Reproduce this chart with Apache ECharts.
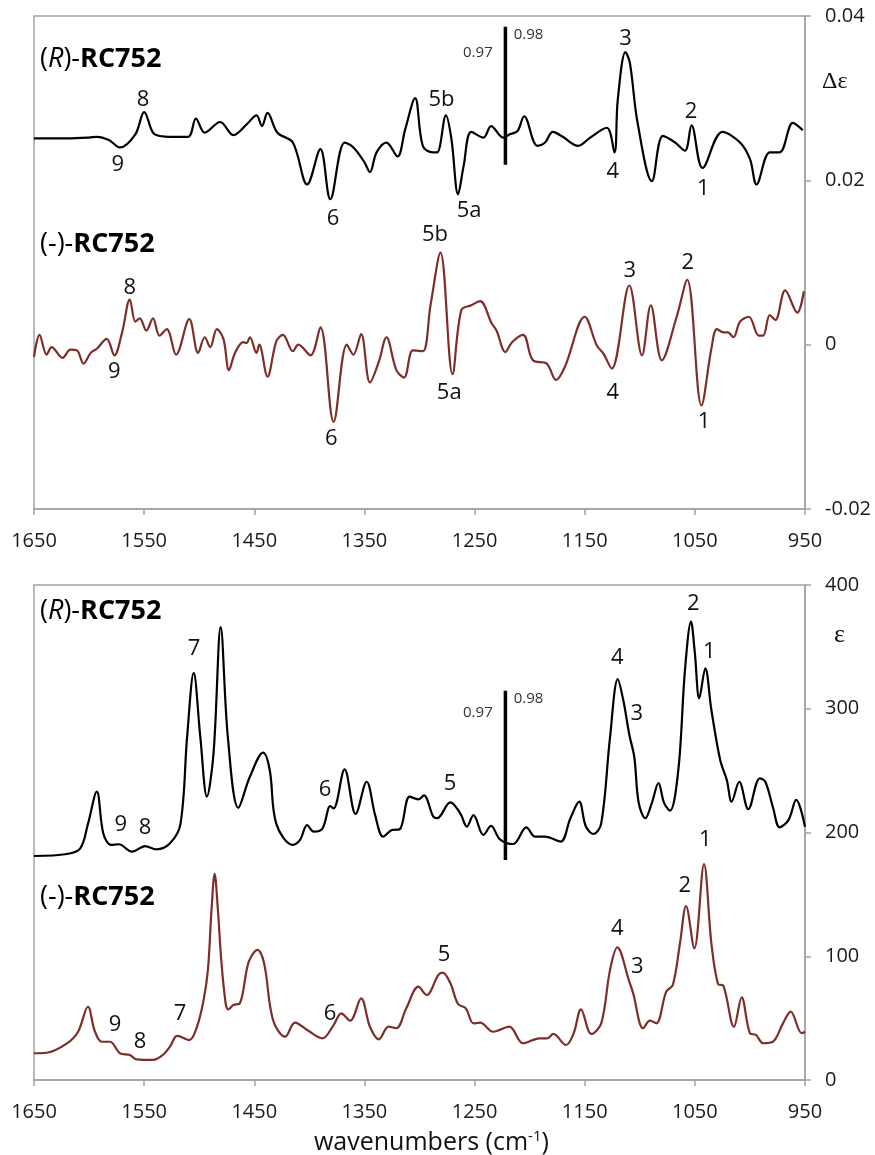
<!DOCTYPE html>
<html>
<head>
<meta charset="utf-8">
<script src="https://cdn.jsdelivr.net/npm/echarts@6/dist/echarts.min.js"></script>
<style>
  html, body { margin: 0; padding: 0; background: #fff; }
  #chart { width: 875px; height: 1155px; }
</style>
</head>
<body>
<div id="chart"></div>
<script>
// tick labels
const xTicks = [1650, 1550, 1450, 1350, 1250, 1150, 1050, 950];
const vcdTicks = [-0.02, 0, 0.02, 0.04];
const irTicks = [0, 100, 200, 300, 400];

// VCD, (R)-RC752 : [wavenumber, delta epsilon]
const rVcd = [[1650,0.0251],[1620,0.0251],[1600,0.0252],[1593,0.0253],[1582,0.0249],[1572,0.0240],[1558,0.0256],[1550,0.0283],[1542,0.0258],[1536,0.0254],[1525,0.0253],[1510,0.0253],[1503,0.0275],[1495,0.0258],[1481,0.0271],[1469,0.0255],[1457,0.0268],[1448,0.0279],[1443,0.0266],[1438,0.0282],[1429,0.0258],[1415,0.0246],[1402,0.0195],[1390,0.0238],[1381,0.0177],[1368,0.0246],[1360,0.0240],[1350,0.0222],[1345,0.0210],[1339,0.0234],[1330,0.0246],[1320,0.0229],[1313,0.0262],[1304,0.0300],[1297,0.0242],[1288,0.0234],[1284,0.0234],[1276,0.0279],[1271,0.0250],[1265,0.0183],[1260,0.0217],[1253,0.0259],[1242,0.0252],[1235,0.0266],[1224,0.0252],[1218,0.0256],[1211,0.0260],[1205,0.0278],[1193,0.0242],[1186,0.0246],[1179,0.0259],[1170,0.0253],[1156,0.0242],[1145,0.0252],[1130,0.0264],[1123,0.0234],[1120,0.0298],[1113,0.0356],[1109,0.0343],[1102,0.0270],[1089,0.0199],[1079,0.0254],[1068,0.0246],[1059,0.0236],[1053,0.0267],[1043,0.0215],[1025,0.0259],[1009,0.0246],[1000,0.0226],[994,0.0195],[982,0.0234],[973,0.0234],[961,0.0270],[952,0.0261]];

// VCD, (-)-RC752
const sVcd = [[1650,-0.0015],[1645,0.0012],[1638.5,-0.0012],[1634,-0.0003],[1624,-0.0016],[1617,-0.0006],[1611,-0.0007],[1605,-0.0023],[1598.5,-0.0010],[1593,-0.0005],[1584,0.0007],[1577,-0.0013],[1570,0.0015],[1563,0.0055],[1558,0.0028],[1554,0.0032],[1548,0.0017],[1542,0.0032],[1536,0.0011],[1529.5,0.0019],[1521,-0.0012],[1509,0.0031],[1501,-0.0010],[1495,0.0009],[1490,-0.0003],[1484,0.0019],[1478,0.0007],[1473,-0.0031],[1467.5,-0.0010],[1460,0.0003],[1457,0.0002],[1454,0.0009],[1448,-0.0010],[1445.5,0.0000],[1438,-0.0039],[1430,0.0004],[1424,0.0012],[1415,-0.0008],[1410,0.0000],[1399,-0.0013],[1390,0.0021],[1378,-0.0094],[1366,0.0000],[1360,-0.0012],[1353,0.0013],[1345,-0.0046],[1337,-0.0021],[1330,0.0009],[1321,-0.0031],[1314,-0.0040],[1306,-0.0007],[1297,-0.0008],[1290,0.0048],[1281,0.0112],[1270,-0.0036],[1262,0.0042],[1253,0.0048],[1245,0.0053],[1234.5,0.0026],[1230,0.0017],[1222,-0.0009],[1216,0.0003],[1206,0.0012],[1197,-0.0019],[1184.5,-0.0023],[1176,-0.0043],[1168,-0.0027],[1150,0.0034],[1139,-0.0001],[1133,-0.0011],[1125.5,-0.0029],[1109.5,0.0072],[1098,-0.0013],[1090,0.0048],[1080,-0.0019],[1066.5,0.0034],[1057,0.0079],[1044,-0.0074],[1035,-0.0005],[1030,0.0019],[1024,0.0015],[1020,0.0015],[1015,0.0009],[1009,0.0028],[1001,0.0034],[992,0.0011],[988,0.0011],[982,0.0036],[977,0.0030],[968,0.0066],[957,0.0039],[951,0.0065]];

// IR, (R)-RC752 : [wavenumber, epsilon]
const rIr = [[1650,181],[1620,182.6],[1608,187.2],[1601,207],[1593,233],[1587,199],[1580,190],[1573,190.5],[1561,184.5],[1549,189],[1539,186.4],[1526.5,191.3],[1517,207],[1511,277],[1505,329],[1499,277],[1493,229],[1487,264],[1480.5,366],[1474,277],[1464.5,220],[1454,245],[1442,264.5],[1436,250.5],[1430,207],[1415,190],[1408.5,194],[1402,206],[1396,200.7],[1388,203.4],[1381,221.4],[1378,219.5],[1368,251],[1358,215],[1348,241],[1340,213],[1333,196.6],[1325,202],[1318,202.6],[1309,229],[1301,226.8],[1296,230],[1287.5,212.8],[1284,211.5],[1272,224.4],[1263,215.5],[1257,204.7],[1251,214.1],[1242,198],[1235,205.3],[1227,194.5],[1215,190.7],[1203,204.2],[1195,196.6],[1186,196.6],[1172,192.6],[1163,211.5],[1155,224.9],[1149,205],[1142,198.8],[1135,207.4],[1127,277],[1120,324],[1115,307],[1109.5,279],[1105,261],[1101,224],[1095,211.5],[1089,224],[1083,240],[1078,224],[1072.6,217.6],[1065,250.5],[1059,331],[1053.5,370.4],[1050,345],[1046,308.4],[1040.5,332.7],[1035,299],[1027,258.6],[1021,242.4],[1016.6,224.9],[1009.7,241],[1001.5,218.8],[991,243.8],[986,241],[979,220],[973,204.2],[965,210],[958,226.3],[950,204.7]];

// IR, (-)-RC752
const sIr = [[1650,21.6],[1638.5,22],[1620,29.6],[1610,39],[1601,59.2],[1595,40],[1588.5,30.9],[1581,30.9],[1572,21.6],[1563,20.2],[1557,16.7],[1542,16.2],[1533,20.2],[1526.5,27],[1520,35.6],[1509,32.3],[1502,43.1],[1496,64.6],[1492,90],[1489,135],[1486,166.5],[1483,137],[1480,97],[1476,62],[1473.6,57.1],[1469,60.6],[1463,62],[1455,95.6],[1447,105.1],[1441,94],[1433,48.5],[1422,35],[1413,46.3],[1402,40.4],[1388,33.7],[1378,44.4],[1371,53.9],[1363,47.9],[1353,66],[1345,43],[1337,32.9],[1328,43.1],[1321,41.8],[1312,57.9],[1301,75.4],[1293.5,68.7],[1283,84.8],[1279,86.7],[1272,78.3],[1265,61.4],[1258,57.9],[1251,45.8],[1245,46.3],[1233,39],[1218.5,43.1],[1206,29.7],[1191,33.7],[1184,33.7],[1178.5,37.2],[1167,28.3],[1160,37.8],[1153.4,57.1],[1144,37.2],[1135,45.8],[1127,89],[1120.4,107.1],[1109.5,79.4],[1106,70],[1097,41.8],[1090.7,47.9],[1085,45.8],[1076,71.4],[1070,76.8],[1063.5,110.5],[1058,140.6],[1050.5,106.4],[1041.7,174.5],[1035,110.5],[1029,77.6],[1024,76],[1014.5,43.1],[1007.5,66.8],[1000,37.8],[994.5,36.4],[988,29.7],[979,31],[970,45.8],[963,55.2],[953,37.8],[950,39]];

// scaling-factor bar (wavenumber, ends) and its labels
const barWn = 1222;
const vcdBar = [0.0387, 0.0219];
const irBar = [314.6, 177.8];
const vcdBarLabels = [[1247, 0.0355, '0.97'], [1201, 0.0377, '0.98']];
const irBarLabels = [[1247, 296.6, '0.97'], [1201, 307.9, '0.98']];

// band numbers [wavenumber, value, text]
const rVcdLabels = [[1574,0.0219,'9'],[1551,0.0298,'8'],[1378.5,0.0153,'6'],[1280,0.0298,'5b'],[1255,0.0163,'5a'],[1113,0.0372,'3'],[1124.6,0.0211,'4'],[1053.5,0.0284,'2'],[1042.3,0.0190,'1']];
const sVcdLabels = [[1563,0.0069,'8'],[1577,-0.0033,'9'],[1380,-0.0114,'6'],[1286,0.0134,'5b'],[1273,-0.0059,'5a'],[1124.6,-0.0058,'4'],[1109,0.0090,'3'],[1056.5,0.0100,'2'],[1041.7,-0.0094,'1']];
const rIrLabels = [[1571.3,206,'9'],[1549.2,204.2,'8'],[1504.7,348.8,'7'],[1385.8,234.3,'6'],[1272.3,239.7,'5'],[1120.4,341.6,'4'],[1102.8,296.3,'3'],[1051.4,385.2,'2'],[1036.9,346.1,'1']];
const sIrLabels = [[1576.5,44.4,'9'],[1553.8,31,'8'],[1517.4,53.9,'7'],[1381.3,53.9,'6'],[1277.8,101,'5'],[1120.4,122.6,'4'],[1102.3,91.6,'3'],[1059.1,156.8,'2'],[1040.5,194,'1']];

const FONT = '"Open Sans", "Noto Sans", sans-serif';
const AXIS_GRAY = '#a3a3a3';
const BROWN = '#7d2e2a';

const chart = echarts.init(document.getElementById('chart'), null, { renderer: 'canvas' });

function makeX(gridIndex) {
    return {
        type: 'value',
        gridIndex: gridIndex,
        min: 950,
        max: 1650,
        inverse: true,
        axisLine: { show: true, onZero: false, lineStyle: { color: AXIS_GRAY, width: 1.5 } },
        axisTick: { show: true, length: 6, customValues: xTicks, lineStyle: { color: AXIS_GRAY, width: 1.5 } },
        axisLabel: { customValues: xTicks, formatter: v => String(v), color: '#1a1a1a', fontSize: 20, fontFamily: FONT, margin: 22 },
        splitLine: { show: false }
    };
}

function makeY(gridIndex, min, max, interval) {
    return {
        type: 'value',
        gridIndex: gridIndex,
        position: 'right',
        min: min,
        max: max,
        interval: interval,
        axisLine: { show: true, lineStyle: { color: AXIS_GRAY, width: 1.5 } },
        axisTick: { show: true, length: 6, lineStyle: { color: AXIS_GRAY, width: 1.5 } },
        axisLabel: { color: '#1a1a1a', fontSize: 20, fontFamily: FONT, margin: 20 },
        splitLine: { show: false }
    };
}

function curve(data, idx, color) {
    return {
        type: 'line',
        xAxisIndex: idx,
        yAxisIndex: idx,
        data: data,
        smooth: 0.35,
        symbol: 'none',
        silent: true,
        lineStyle: { color: color, width: 2.2 },
        z: 3
    };
}

function labels(data, idx, size, color) {
    return {
        type: 'scatter',
        xAxisIndex: idx,
        yAxisIndex: idx,
        data: data,
        symbolSize: 1,
        silent: true,
        itemStyle: { color: 'rgba(0,0,0,0)', opacity: 1 },
        label: {
            show: true,
            position: 'inside',
            formatter: p => p.value[2],
            fontSize: size,
            fontFamily: FONT,
            color: color,
            opacity: 1
        },
        z: 5
    };
}

function bar(vals, idx) {
    return {
        type: 'line',
        xAxisIndex: idx,
        yAxisIndex: idx,
        data: vals.map(v => [barWn, v]),
        symbol: 'none',
        silent: true,
        lineStyle: { color: '#000', width: 3.5 },
        z: 4
    };
}

function nameText(left, top, prefix) {
    const rich = {
        n: { fontSize: 27, fontFamily: FONT, color: '#111' },
        i: { fontSize: 27, fontFamily: FONT, fontStyle: 'italic', color: '#111' },
        b: { fontSize: 27, fontFamily: FONT, fontWeight: 'bold', color: '#111' }
    };
    const text = prefix === 'R' ? '{n|(}{i|R}{n|)-}{b|RC752}' : '{n|(-)-}{b|RC752}';
    return { type: 'text', left: left, top: top, style: { text: text, rich: rich } };
}

const option = {
    backgroundColor: '#fff',
    animation: false,
    grid: [
        { left: 34, right: 70, top: 16, height: 493, show: true, borderColor: AXIS_GRAY, borderWidth: 1.5 },
        { left: 34, right: 70, top: 585, height: 495, show: true, borderColor: AXIS_GRAY, borderWidth: 1.5 }
    ],
    xAxis: [makeX(0), makeX(1)],
    yAxis: [makeY(0, vcdTicks[0], vcdTicks[vcdTicks.length - 1], 0.02), makeY(1, irTicks[0], irTicks[irTicks.length - 1], 100)],
    series: [
        curve(rVcd, 0, '#000'),
        curve(sVcd, 0, BROWN),
        curve(rIr, 1, '#000'),
        curve(sIr, 1, BROWN),
        bar(vcdBar, 0),
        bar(irBar, 1),
        labels(rVcdLabels, 0, 22, '#111'),
        labels(sVcdLabels, 0, 22, '#111'),
        labels(rIrLabels, 1, 22, '#111'),
        labels(sIrLabels, 1, 22, '#111'),
        labels(vcdBarLabels, 0, 15, '#333'),
        labels(irBarLabels, 1, 15, '#333')
    ],
    graphic: [
        nameText(40, 46, 'R'),
        nameText(40, 231, '-'),
        nameText(40, 598, 'R'),
        nameText(40, 884, '-'),
        { type: 'text', left: 822, top: 70, style: { text: 'Δε', fontSize: 24, fontFamily: '"Liberation Serif", serif', fill: '#111' } },
        { type: 'text', left: 834, top: 622, style: { text: 'ε', fontSize: 26, fontFamily: '"Liberation Serif", serif', fill: '#111' } },
        {
            type: 'text', left: 314, top: 1129,
            style: {
                text: 'wavenumbers (cm{s|-1})',
                fontSize: 25, fontFamily: FONT, fill: '#111',
                rich: { s: { fontSize: 15, fontFamily: FONT, verticalAlign: 'top', padding: [0, 0, 12, 0] } }
            }
        }
    ]
};

chart.setOption(option);
</script>
</body>
</html>
